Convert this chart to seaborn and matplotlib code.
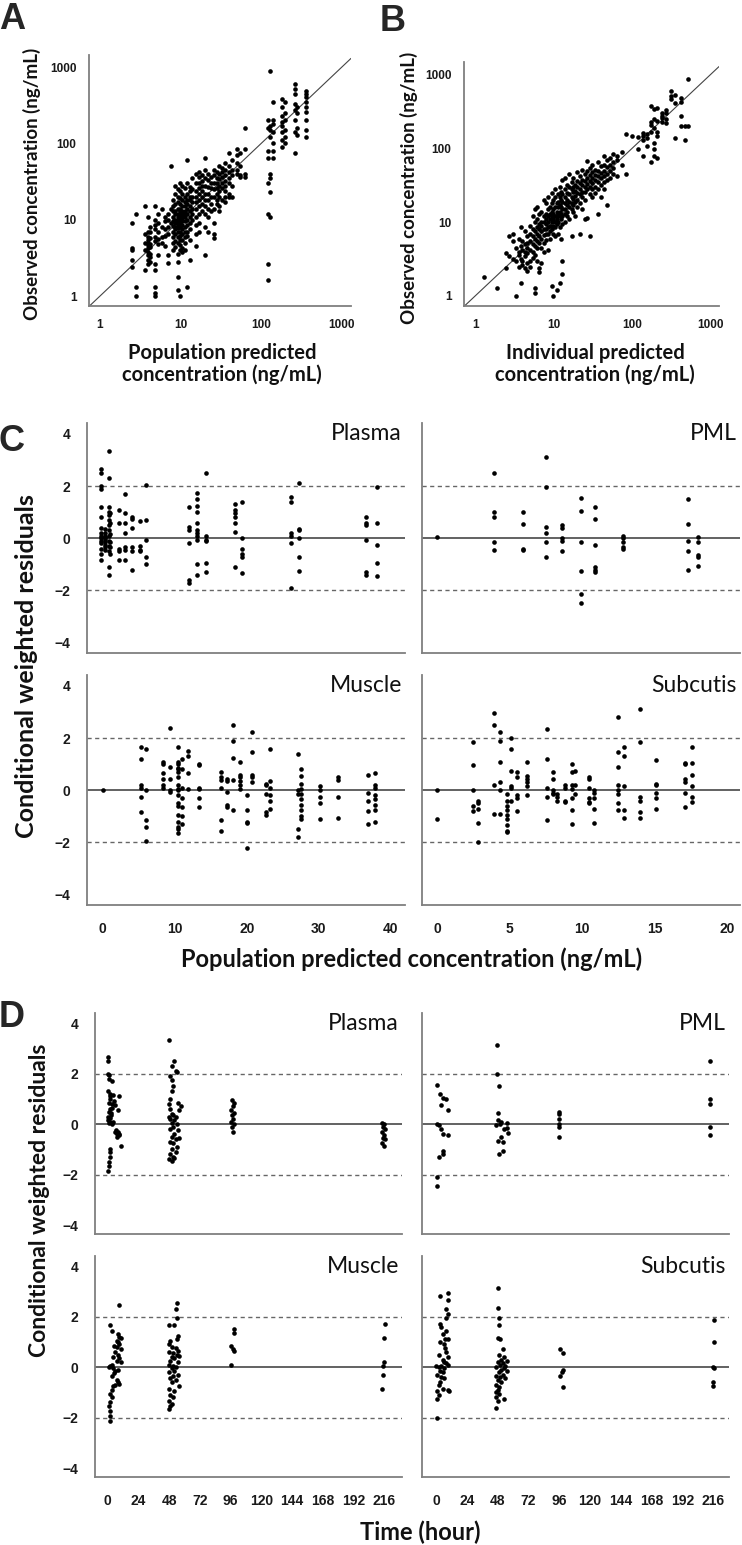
import matplotlib
matplotlib.use("Agg")
import matplotlib.pyplot as plt
import seaborn as sns
import pandas as pd

# ---- panel A: population predicted vs observed (columns of equal prediction)
A_PRED = [2.5, 2.8, 3.6, 3.9, 4.2, 4.8, 5.3, 5.8, 6.4, 7.0, 7.5, 8.0, 8.6, 9.2, 9.8,
          10.5, 11.2, 12.0, 13.0, 14.0, 15.5, 17.0, 18.5, 20, 22, 24, 26, 28, 30, 33,
          36, 40, 43, 50, 55, 63, 120, 130, 140, 180, 200, 260, 280, 360]
A_OBS = [
    [9, 4.2, 4.0, 3.0, 2.4],
    [12, 1.3, 1.0],
    [15, 6.5, 5.0, 4.0, 2.2],
    [11, 7.0, 6.0, 5.5, 5.0, 4.6, 4.2, 3.8, 3.4, 3.0, 2.6],
    [8.0, 6.8, 5.8, 4.8, 4.4, 3.6, 3.2, 2.8],
    [15, 10, 8.5, 7.5, 6.0, 5.2, 2.6, 2.2, 1.3, 1.1, 1.0],
    [12, 9, 7, 5.6, 4.8, 3.4],
    [14, 8, 6, 5],
    [11, 9.5, 7.5, 6.2, 4.5],
    [12, 10, 8, 6.5, 3.5, 2.7],
    [50, 14, 9],
    [18, 15, 13, 11, 9.5, 8.2, 7, 6, 5, 4],
    [28, 22, 16, 13, 12, 10, 9, 8, 7.5, 6.5, 5.2, 4.4],
    [25, 20, 17, 14, 12, 11, 10, 9, 8.5, 7.8, 7, 6, 5, 3.6, 2.8, 1.8, 1.2],
    [30, 24, 19, 16, 14, 13, 12, 11, 10, 9, 8, 7, 6.2, 5.5, 4.6, 4.0, 1.0],
    [28, 22, 18, 15, 13, 12, 11, 10.5, 9.5, 8.5, 7.5, 6.5, 5.5, 4.2, 3.8],
    [26, 20, 17, 15, 13, 12, 11, 9.5, 8, 7, 6, 5, 4],
    [60, 30, 22, 18, 16, 14, 12, 10, 8.5, 7, 6.2, 1.3],
    [27, 24, 20, 18, 15, 13, 11, 9, 7.5, 5.5, 3.0],
    [35, 25, 20, 17, 14, 12, 10],
    [40, 30, 24, 20, 17, 14, 11, 8.5, 6.5, 4.5],
    [42, 36, 30, 26, 22, 18, 15, 12, 9, 7],
    [38, 32, 28, 24, 20, 16, 13],
    [65, 45, 35, 28, 22, 18, 15, 12, 8, 3.4],
    [40, 33, 27, 22, 18, 14, 11, 7],
    [36, 30, 26, 20, 16, 13],
    [45, 38, 30, 25, 20, 14, 9, 6.5, 5.8],
    [42, 35, 30, 26, 22, 18, 16],
    [50, 40, 34, 28, 24, 20, 15, 13],
    [48, 42, 36, 30, 26, 18],
    [55, 45, 38, 32, 28, 24, 20, 17],
    [75, 50, 42, 35, 30, 22, 20],
    [60, 45, 38, 28, 20],
    [85, 70, 55, 45, 40],
    [75, 50, 38, 36],
    [160, 85, 40, 36],
    [200, 160, 80, 65, 30, 12, 2.6, 1.6],
    [890, 170, 150, 120, 40, 35, 23, 11],
    [350, 200, 180, 140, 100, 80, 65],
    [380, 300, 230, 190, 170, 140, 110, 90],
    [350, 250, 200, 150, 120, 100],
    [600, 520, 450, 330, 270, 200, 140, 75],
    [300, 250, 160, 130],
    [490, 440, 400, 350, 300, 260, 200, 150, 120],
]

# ---- panel B: individual predicted vs observed
B_PRED = [1.3, 1.9, 2.5, 2.7, 3.0, 3.3, 3.6, 3.8, 4.0, 4.3, 4.6, 5.0, 5.4, 5.8, 6.2,
          6.6, 7.0, 7.5, 8.0, 8.5, 9.0, 9.5, 10, 10.5, 11, 11.5, 12, 12.5, 13, 14, 15,
          16, 17, 18, 19, 20, 21.5, 23, 25, 27, 29, 31, 34, 37, 40, 44, 48, 52, 58, 65,
          75, 85, 100, 120, 140, 155, 175, 195, 210, 240, 270, 320, 360, 420, 480, 530]
B_OBS = [
    [1.8], [1.3], [2.4, 3.8], [3.5, 6.5], [7.0, 5.5, 3.2], [4.5, 3.0, 1.0],
    [6.0, 4.0, 3.6, 2.5], [8.5, 4.8, 3.2, 1.5], [5.5, 4.2, 3.0, 2.6],
    [7.5, 5.0, 4.0, 3.5, 2.4], [6.5, 5.2, 4.5, 3.8, 2.8, 2.2],
    [9.0, 7.0, 5.5, 4.2, 3.0, 2.5], [12, 8.0, 6.5, 5.0, 4.0, 3.3],
    [15, 10, 7.5, 6.0, 4.8, 3.6, 1.3, 1.1], [16, 11, 8.5, 7.0, 5.5, 4.5, 3.0],
    [13, 9.5, 8.0, 6.5, 5.2, 2.4, 2.1], [14, 10, 8.8, 7.5, 6.0, 4.5, 2.8],
    [20, 12, 10, 8.0, 6.8, 5.2, 4.0], [18, 13, 11, 9.5, 8.0, 7.0, 5.8],
    [22, 15, 12, 10, 8.5, 7.0, 4.2], [16, 13, 11, 9.0, 7.5, 6.0],
    [25, 18, 14, 12, 10, 8.0, 1.35], [20, 15, 13, 11, 9.0, 7.0, 1.0],
    [28, 22, 16, 12, 10, 8.5, 6.5], [18, 14, 12, 11, 9.5, 1.2],
    [24, 19, 16, 13, 10, 7.0], [30, 22, 17, 14, 12, 8.5, 1.5],
    [26, 20, 16, 13, 11, 6.0], [38, 24, 19, 15, 12, 9.5, 3.0, 2.0],
    [40, 28, 22, 18, 15, 13, 10], [32, 25, 20, 17, 14, 12],
    [45, 30, 24, 19, 16, 11], [35, 28, 22, 18, 15, 6.5],
    [40, 30, 26, 21, 17, 14], [32, 27, 23, 19, 12], [48, 36, 30, 25, 20, 16],
    [42, 34, 28, 24, 18, 7.0], [52, 38, 32, 26, 22, 15], [45, 36, 30, 26, 20, 11],
    [68, 50, 40, 33, 28, 11.5], [55, 44, 36, 30, 24, 6.5], [60, 48, 40, 34, 28, 22],
    [52, 44, 38, 30, 25], [65, 50, 42, 35, 28, 13], [58, 47, 40, 32, 22],
    [80, 60, 50, 42, 35, 28], [70, 56, 45, 38, 17], [75, 60, 50, 40],
    [85, 65, 55, 45], [80, 70, 42], [90, 60], [160, 45], [150], [145, 100],
    [165, 150, 130, 80], [160, 140, 110], [380, 230, 210, 170, 65],
    [350, 250, 190, 120, 100, 80], [360, 240, 170, 150, 75], [300, 280, 260, 230],
    [330, 300, 250, 220], [600, 520, 470], [540, 420, 140], [480, 430, 280, 200],
    [200, 130], [880, 200],
]

# ---- panel C: CWRES vs population predicted concentration
C_PLASMA_X = [-0.2, 0.3, 0.8, 1.0, 2.3, 3.1, 4.1, 5.1, 6.0, 12.0, 13.1, 14.4, 18.4,
              19.4, 26.1, 27.2, 36.6, 38.1]
C_PLASMA_Y = [
    [2.65, 2.5, 2.0, 1.9, 1.2, 0.8, 0.4, 0.2, 0.1, 0.0, -0.1, -0.2, -0.4, -0.6, -0.85],
    [0.35, 0.2, 0.1, 0.05, 0.0, -0.05, -0.15, -0.25, -0.35, -0.45],
    [3.35, 2.3, 1.2, 1.0, 0.9, 0.7, 0.5, 0.3, 0.1, -0.1, -0.3, -0.5, -1.1, -1.4],
    [0.95, 0.6, 0.15, -0.15, -0.35, -0.6],
    [1.1, 0.6, -0.4, -0.5, -0.85],
    [1.7, 0.95, 0.6, 0.2, -0.35, -0.45, -0.85],
    [0.8, 0.75, 0.4, -0.35, -0.5, -1.2],
    [0.65, -0.3, -0.45, -0.5],
    [2.05, 0.7, -0.05, -0.7, -1.0],
    [1.2, 0.45, 0.3, -0.2, -1.6, -1.7],
    [1.75, 1.5, 1.25, 1.0, 0.6, 0.3, 0.2, 0.1, -0.05, -1.0, -1.4],
    [2.5, 0.1, -0.05, -0.1, -0.95, -1.3],
    [1.3, 1.1, 0.95, 0.8, 0.6, 0.25, -1.1],
    [1.4, 0.0, -0.4, -0.6, -0.7, -1.35],
    [1.6, 1.4, 0.2, 0.1, -0.2, -1.9],
    [2.1, 0.35, 0.3, 0.0, -0.7, -1.25],
    [0.8, 0.6, 0.5, -0.05, -1.3, -1.4],
    [1.95, 0.6, -0.25, -0.95, -1.45],
]
C_PML_X = [0, 3.9, 5.9, 7.5, 8.6, 9.9, 10.9, 12.8, 17.3, 18.0]
C_PML_Y = [
    [0.05],
    [2.5, 1.0, 0.8, -0.15, -0.45],
    [1.0, 0.55, -0.4, -0.45],
    [3.1, 1.95, 0.45, 0.2, -0.15, -0.7],
    [0.5, 0.4, 0.0, -0.1, -0.5],
    [1.55, 1.05, -0.15, -1.25, -2.15, -2.5],
    [1.2, 0.75, -0.25, -1.1, -1.2, -1.3],
    [0.1, 0.0, -0.15, -0.35, -0.4],
    [1.5, 0.55, -0.1, -0.5, -1.2],
    [0.05, -0.15, -0.65, -0.7, -1.05],
]
C_MUSCLE_X = [0, 5.3, 6.0, 8.4, 9.4, 10.5, 11.0, 11.8, 13.4, 16.4, 17.3, 18.1, 19.1,
              20.0, 20.7, 22.7, 23.3, 27.1, 27.6, 30.2, 32.7, 36.9, 37.8]
C_MUSCLE_Y = [
    [0.0],
    [1.65, 1.2, 0.2, 0.1, -0.25, -0.85],
    [1.6, 0.0, -1.15, -1.4, -1.95],
    [1.1, 1.0, 0.65, 0.45, 0.2, 0.1],
    [2.4, 0.9, 0.45, 0.0, -0.05],
    [1.65, 1.1, 1.0, 0.85, 0.8, 0.7, 0.5, 0.2, 0.05, 0.0, -0.2, -0.5, -0.6, -0.95,
     -1.2, -1.4, -1.5, -1.65],
    [1.2, 0.8, 0.1, -0.3, -0.65, -1.0, -1.3],
    [1.5, 1.3, 0.65, 0.05],
    [1.0, 0.95, 0.1, 0.05, -0.3, -0.65],
    [0.7, 0.5, 0.4, 0.1, -1.15, -1.55],
    [0.45, 0.35, -0.05, -0.55, -0.65],
    [2.5, 1.9, 1.25, 0.4, -0.75],
    [1.1, 0.6, 0.5, 0.35, 0.2, 0.05],
    [-0.2, -0.75, -1.2, -1.25, -2.2],
    [2.25, 1.45, 0.6, 0.5, 0.3],
    [0.25, 0.2, -0.15, -0.85, -0.95],
    [1.6, 0.35, 0.1, -0.2, -0.4, -0.7],
    [1.4, 0.0, -0.15, -1.5, -1.8],
    [0.8, 0.55, 0.25, 0.05, -0.15, -0.35, -0.55, -0.75, -1.0, -1.1],
    [0.15, 0.0, -0.25, -0.5, -1.1],
    [0.5, 0.4, -0.25, -1.05],
    [0.6, -0.1, -0.4, -0.8, -1.3],
    [0.65, 0.2, 0.1, -0.2, -0.35, -0.55, -0.75, -1.2],
]
C_SUBCUTIS_X = [0, 2.5, 2.8, 3.9, 4.3, 4.8, 5.1, 5.5, 6.2, 7.6, 8.0, 8.3, 8.8, 9.3, 9.5,
                10.5, 10.8, 12.5, 12.9, 14.0, 15.1, 17.1, 17.6]
C_SUBCUTIS_Y = [
    [0.0, -1.1],
    [1.85, 0.95, 0.0, -0.6, -0.8],
    [-0.4, -0.5, -0.7, -1.25, -2.0],
    [2.95, 2.5, 0.2, -0.9],
    [2.25, 1.9, 1.1, 0.3, 0.0, -0.9],
    [-0.15, -0.4, -0.6, -0.75, -0.95, -1.1, -1.35, -1.55, -1.6],
    [2.0, 1.6, 0.75, 0.15, 0.1, -0.4],
    [0.7, 0.5, -0.2, -0.3, -0.8],
    [1.1, 0.55, 0.45, 0.3, 0.15, -0.2],
    [2.35, 1.2, 0.1, -0.25, -1.15],
    [0.7, 0.45, 0.0, -0.1, -0.15],
    [-0.15, -0.25, -0.4],
    [0.2, 0.1, -0.4, -0.45],
    [1.0, 0.7, 0.2, 0.05, -0.3, -0.75, -1.3],
    [0.75, 0.2, -0.15],
    [0.5, 0.45, 0.1, -0.3, -0.45, -0.5],
    [0.0, -0.1, -0.3, -0.7, -1.25],
    [2.8, 1.45, 0.9, 0.2, 0.0, -0.15, -0.5, -0.75],
    [1.65, 1.3, 0.15, -0.75, -1.05],
    [3.1, 1.85, -0.25, -0.4, -0.85, -1.05],
    [1.15, 0.25, 0.2, -0.1, -0.3, -0.7],
    [1.05, 1.0, 0.45, 0.3, -0.1, -0.65],
    [1.65, 1.05, 0.6, 0.15, -0.25, -0.45],
]

# ---- panel D: CWRES vs time, (hour, cwres) pairs
D_PLASMA = [
    (0.5, 2.65), (0.5, 2.5), (0.5, 2.0), (1, 1.95), (1, 1.8), (3, 1.7), (0.5, 1.3),
    (1.5, 1.2), (2, 1.1), (4, 1.15), (9, 1.1), (2, 1.0), (1, 0.85), (3, 0.8), (6, 0.75),
    (2, 0.6), (8, 0.55), (1, 0.5), (2.5, 0.45), (0.5, 0.3), (1.5, 0.25), (0.5, 0.15),
    (2, 0.1), (1, 0.05), (3, 0.0), (4, 0.1), (6, -0.3), (7, -0.35), (7.5, -0.4),
    (8, -0.3), (8.5, -0.45), (9, -0.4), (7, -0.5), (6.5, -0.25), (10, -0.85), (2, -1.0),
    (1.5, -1.1), (1.5, -1.3), (1, -1.5), (1, -1.65), (0.5, -1.85), (2.5, 0.35),
    (3, 0.65), (5, 0.9),
    (48, 3.35), (52, 2.5), (50, 2.3), (53, 2.1), (54, 2.05), (49, 1.9), (50, 1.75),
    (51, 1.5), (50, 1.3), (49, 1.0), (55, 0.85), (48, 0.8), (57, 0.7), (49, 0.6),
    (56, 0.55), (50, 0.4), (51, 0.35), (48, 0.3), (53, 0.3), (49, 0.2), (52, 0.15),
    (50, 0.05), (54, 0.0), (51, -0.1), (49, -0.2), (55, -0.25), (52, -0.4), (50, -0.5),
    (56, -0.55), (53, -0.6), (49, -0.7), (51, -0.75), (54, -0.9), (50, -1.0),
    (53, -1.1), (49, -1.2), (51, -1.3), (48, -1.4), (50, -1.45), (52, -1.35),
    (97, 0.95), (99, 0.85), (98, 0.7), (96, 0.55), (99, 0.45), (97, 0.35), (98, 0.2),
    (96, 0.1), (99, 0.0), (97, -0.1), (98, -0.3),
    (214, 0.05), (216, 0.0), (215, -0.1), (217, -0.2), (214, -0.3), (216, -0.45),
    (215, -0.55), (217, -0.6), (214, -0.75), (216, -0.85),
]
D_PML = [
    (1, 1.55), (1, 0.0), (1, -2.1), (1, -2.45), (3, 1.2), (5, 1.05), (4, 0.75),
    (8, 1.0), (9, 0.55), (2, -0.05), (4, -0.2), (9, -0.45), (5, -0.4), (5, -1.05),
    (5, -1.2), (2, -1.3),
    (47.5, 3.15), (47.5, 2.0), (49, 1.5), (48, 0.45), (48, 0.15), (47, -0.05),
    (48, -0.65), (51, -0.5), (52, -0.7), (49, -1.2), (52, -1.05), (50, 0.0),
    (53, -0.2), (55, -0.15), (55, 0.05), (51, 0.1), (56, -0.35),
    (96, 0.5), (96, 0.4), (96, 0.2), (96, 0.0), (96, -0.1), (96, -0.5),
    (214, 2.5), (214, 1.0), (214, 0.8), (214, -0.1), (214, -0.45),
]
D_MUSCLE = [
    (9, 2.45), (2, 1.65), (3, 1.45), (8, 1.3), (9, 1.2), (10, 1.15), (7, 1.05), (8, 1.0),
    (5, 0.85), (9, 0.9), (7, 0.8), (10, 0.7), (6, 0.6), (8, 0.5), (4, 0.4), (9, 0.35),
    (7, 0.25), (10, 0.2), (3, 0.1), (1, 0.0), (2, 0.05), (4, -0.05), (6, -0.15),
    (8, -0.1), (5, -0.25), (3, -0.35), (7, -0.5), (8, -0.6), (9, -0.65), (4, -0.75),
    (3, -0.9), (2, -1.05), (3, -1.2), (2, -1.4), (1, -1.55), (2, -1.75), (2, -1.95),
    (2, -2.15), (6, -0.7),
    (54, 2.55), (53, 2.3), (54, 1.95), (52, 1.65), (48, 1.65), (55, 1.25), (54, 1.1),
    (49, 1.05), (48, 0.9), (50, 0.8), (53, 0.75), (55, 0.65), (48, 0.6), (51, 0.55),
    (54, 0.5), (56, 0.45), (50, 0.4), (52, 0.35), (49, 0.25), (55, 0.2), (48, 0.1),
    (51, 0.05), (53, 0.0), (50, -0.05), (52, -0.15), (48, -0.2), (55, -0.3),
    (51, -0.35), (49, -0.45), (53, -0.5), (56, -0.75), (50, -0.6), (48, -0.85),
    (52, -0.95), (49, -1.1), (51, -1.2), (48, -1.35), (50, -1.45), (49, -1.55),
    (48, -1.65),
    (99, 1.5), (99, 1.35), (96, 0.85), (98, 0.7), (99, 0.65), (96, 0.1),
    (217, 1.7), (216, 1.15), (216, 0.2), (215, 0.05), (215, -0.3), (214, -0.85),
]
D_SUBCUTIS = [
    (3, 2.8), (9, 2.95), (9, 2.65), (8, 2.3), (9, 2.1), (8, 1.95), (3, 1.7), (4, 1.6),
    (8, 1.45), (5, 1.3), (7, 1.1), (9, 1.1), (3, 1.0), (6, 0.9), (7, 0.75), (8, 0.6),
    (2, 0.5), (9, 0.4), (5, 0.3), (6, 0.2), (8, 0.15), (0, 0.05), (2, 0.0), (4, 0.05),
    (6, -0.05), (9, 0.1), (3, -0.15), (5, -0.2), (1, -0.3), (4, -0.4), (6, -0.45),
    (3, -0.6), (2, -0.7), (5, -0.85), (1, -0.95), (2, -1.1), (1, -1.25), (9, -0.9),
    (10, -0.95), (1, -2.0),
    (48, 3.15), (48, 2.35), (49, 1.95), (49, 1.65), (50, 1.1), (48, 1.15), (52, 0.7),
    (49, 0.5), (53, 0.4), (51, 0.3), (55, 0.25), (48, 0.2), (52, 0.15), (50, 0.1),
    (54, 0.05), (47, 0.0), (53, -0.05), (51, -0.1), (55, -0.15), (49, -0.2),
    (52, -0.3), (47, -0.35), (50, -0.4), (54, -0.45), (48, -0.5), (51, -0.6),
    (47, -0.7), (49, -0.8), (48, -0.9), (47, -1.0), (49, -1.05), (47, -1.2),
    (48, -1.35), (47, -1.6), (53, -1.25),
    (97, 0.7), (99, 0.55), (99, -0.1), (98, -0.2), (97, -0.35), (99, -0.8),
    (217, 1.85), (217, 1.0), (216, 0.0), (217, -0.05), (216, -0.6), (216, -0.75),
]

TICK_FONT = "Liberation Sans"
LABEL_FONT = "Lato"
SPINE = "#7f7f7f"

sns.set_style("white")
plt.rcParams["font.family"] = [TICK_FONT, "DejaVu Sans"]

W, H = 742, 1545
fig = plt.figure(figsize=(W / 100, H / 100), dpi=100)


def add_ax(l, t, r, b):
    return fig.add_axes([l / W, 1 - b / H, (r - l) / W, (b - t) / H])


def ftext(x, y, s, **kw):
    fig.text(x / W, 1 - y / H, s, **kw)


def columns_df(xs, ys):
    rows = [(x, y) for x, col in zip(xs, ys) for y in col]
    return pd.DataFrame(rows, columns=["x", "y"])


def pairs_df(pairs):
    return pd.DataFrame(pairs, columns=["x", "y"])


def dots(ax, df):
    sns.scatterplot(data=df, x="x", y="y", ax=ax, color="black", s=11,
                    linewidth=0, legend=False)
    ax.set_xlabel("")
    ax.set_ylabel("")


def base_style(ax, size):
    for s in ["top", "right"]:
        ax.spines[s].set_visible(False)
    for s in ["left", "bottom"]:
        ax.spines[s].set_color(SPINE)
        ax.spines[s].set_linewidth(1.3)
    for lbl in ax.get_xticklabels() + ax.get_yticklabels():
        lbl.set_fontweight("bold")
        lbl.set_fontsize(size)
        lbl.set_color("#1a1a1a")


# ---- A and B
def loglog_panel(ax, df, xlim, ylim):
    dots(ax, df)
    ax.set_xscale("log")
    ax.set_yscale("log")
    ax.set_xlim(*xlim)
    ax.set_ylim(*ylim)
    ax.axline((1, 1), (1000, 1000), color="#444444", lw=0.8, zorder=0)
    ax.set_xticks([1, 10, 100, 1000], ["1", "10", "100", "1000"])
    ax.set_yticks([1, 10, 100, 1000], ["1", "10", "100", "1000"])
    ax.minorticks_off()
    ax.tick_params(length=0, pad=9)
    base_style(ax, 8.5)


axA = add_ax(89, 55, 351, 306)
loglog_panel(axA, columns_df(A_PRED, A_OBS), (0.73, 1300), (0.74, 1440))
axB = add_ax(464, 62, 719, 306)
loglog_panel(axB, columns_df(B_PRED, B_OBS), (0.72, 1300), (0.73, 1500))

label_kw = dict(family=LABEL_FONT, weight="bold", color="#111111")
ftext(222, 364, "Population predicted\nconcentration (ng/mL)", ha="center",
      va="center", fontsize=14.5, linespacing=1.1, **label_kw)
ftext(595, 364, "Individual predicted\nconcentration (ng/mL)", ha="center",
      va="center", fontsize=14.5, linespacing=1.1, **label_kw)
ftext(32, 184, "Observed concentration (ng/mL)", ha="center", va="center",
      rotation=90, fontsize=13.5, **label_kw)
ftext(409, 188, "Observed concentration (ng/mL)", ha="center", va="center",
      rotation=90, fontsize=13.5, **label_kw)


# ---- residual panels C and D
def resid_panel(ax, df, title, xlim, ylim, xticks, show_x, show_y):
    dots(ax, df)
    ax.axhline(0, color="#555555", lw=1.3, zorder=0)
    ax.axhline(2, color="#666666", lw=1.0, ls=(0, (3, 2.5)), zorder=0)
    ax.axhline(-2, color="#666666", lw=1.0, ls=(0, (3, 2.5)), zorder=0)
    ax.set_xlim(*xlim)
    ax.set_ylim(*ylim)
    ax.set_xticks(xticks)
    ax.set_yticks([-4, -2, 0, 2, 4])
    ax.tick_params(length=2, width=0.8, color="#cccccc", pad=10)
    if not show_x:
        ax.set_xticklabels([])
    if not show_y:
        ax.set_yticklabels([])
    base_style(ax, 10)
    ax.text(0.99, 1.0, title, transform=ax.transAxes, ha="right", va="top",
            family=LABEL_FONT, fontsize=16.5, color="#111111")


C_TICKS_L = [0, 10, 20, 30, 40]
C_TICKS_R = [0, 5, 10, 15, 20]
C_XL = (-2.2, 42)
C_XR = (-1.05, 20.9)
C_Y = (-4.4, 4.42)

resid_panel(add_ax(87, 423, 405, 653), columns_df(C_PLASMA_X, C_PLASMA_Y), "Plasma",
            C_XL, C_Y, C_TICKS_L, False, True)
resid_panel(add_ax(422, 423, 740, 653), columns_df(C_PML_X, C_PML_Y), "PML",
            C_XR, C_Y, C_TICKS_R, False, False)
resid_panel(add_ax(87, 675, 405, 905), columns_df(C_MUSCLE_X, C_MUSCLE_Y), "Muscle",
            C_XL, C_Y, C_TICKS_L, True, True)
resid_panel(add_ax(422, 675, 740, 905), columns_df(C_SUBCUTIS_X, C_SUBCUTIS_Y),
            "Subcutis", C_XR, C_Y, C_TICKS_R, True, False)

D_TICKS = list(range(0, 217, 24))
D_XL = (-10, 230)
D_XR = (-11, 228.5)
D_Y = (-4.35, 4.4)

resid_panel(add_ax(95, 1013, 402, 1234), pairs_df(D_PLASMA), "Plasma",
            D_XL, D_Y, D_TICKS, False, True)
resid_panel(add_ax(422, 1013, 729, 1234), pairs_df(D_PML), "PML",
            D_XR, D_Y, D_TICKS, False, False)
resid_panel(add_ax(95, 1256, 402, 1477), pairs_df(D_MUSCLE), "Muscle",
            D_XL, D_Y, D_TICKS, True, True)
resid_panel(add_ax(422, 1256, 729, 1477), pairs_df(D_SUBCUTIS), "Subcutis",
            D_XR, D_Y, D_TICKS, True, False)

ftext(412, 959, "Population predicted concentration (ng/mL)", ha="center",
      va="center", fontsize=17, **label_kw)
ftext(27, 666, "Conditional weighted residuals", ha="center", va="center",
      rotation=90, fontsize=18, **label_kw)
ftext(40, 1200, "Conditional weighted residuals", ha="center", va="center",
      rotation=90, fontsize=16.5, **label_kw)
ftext(420, 1532, "Time (hour)", ha="center", va="center", fontsize=17, **label_kw)

# panel letters
letter_kw = dict(family=TICK_FONT, weight="bold", fontsize=26, va="top", ha="left")
ftext(-1, 2, "A", **letter_kw)
ftext(380, 4, "B", **letter_kw)
ftext(-1, 424, "C", **letter_kw)
ftext(-1, 1000, "D", **letter_kw)

fig.savefig("out.png", dpi=100)
